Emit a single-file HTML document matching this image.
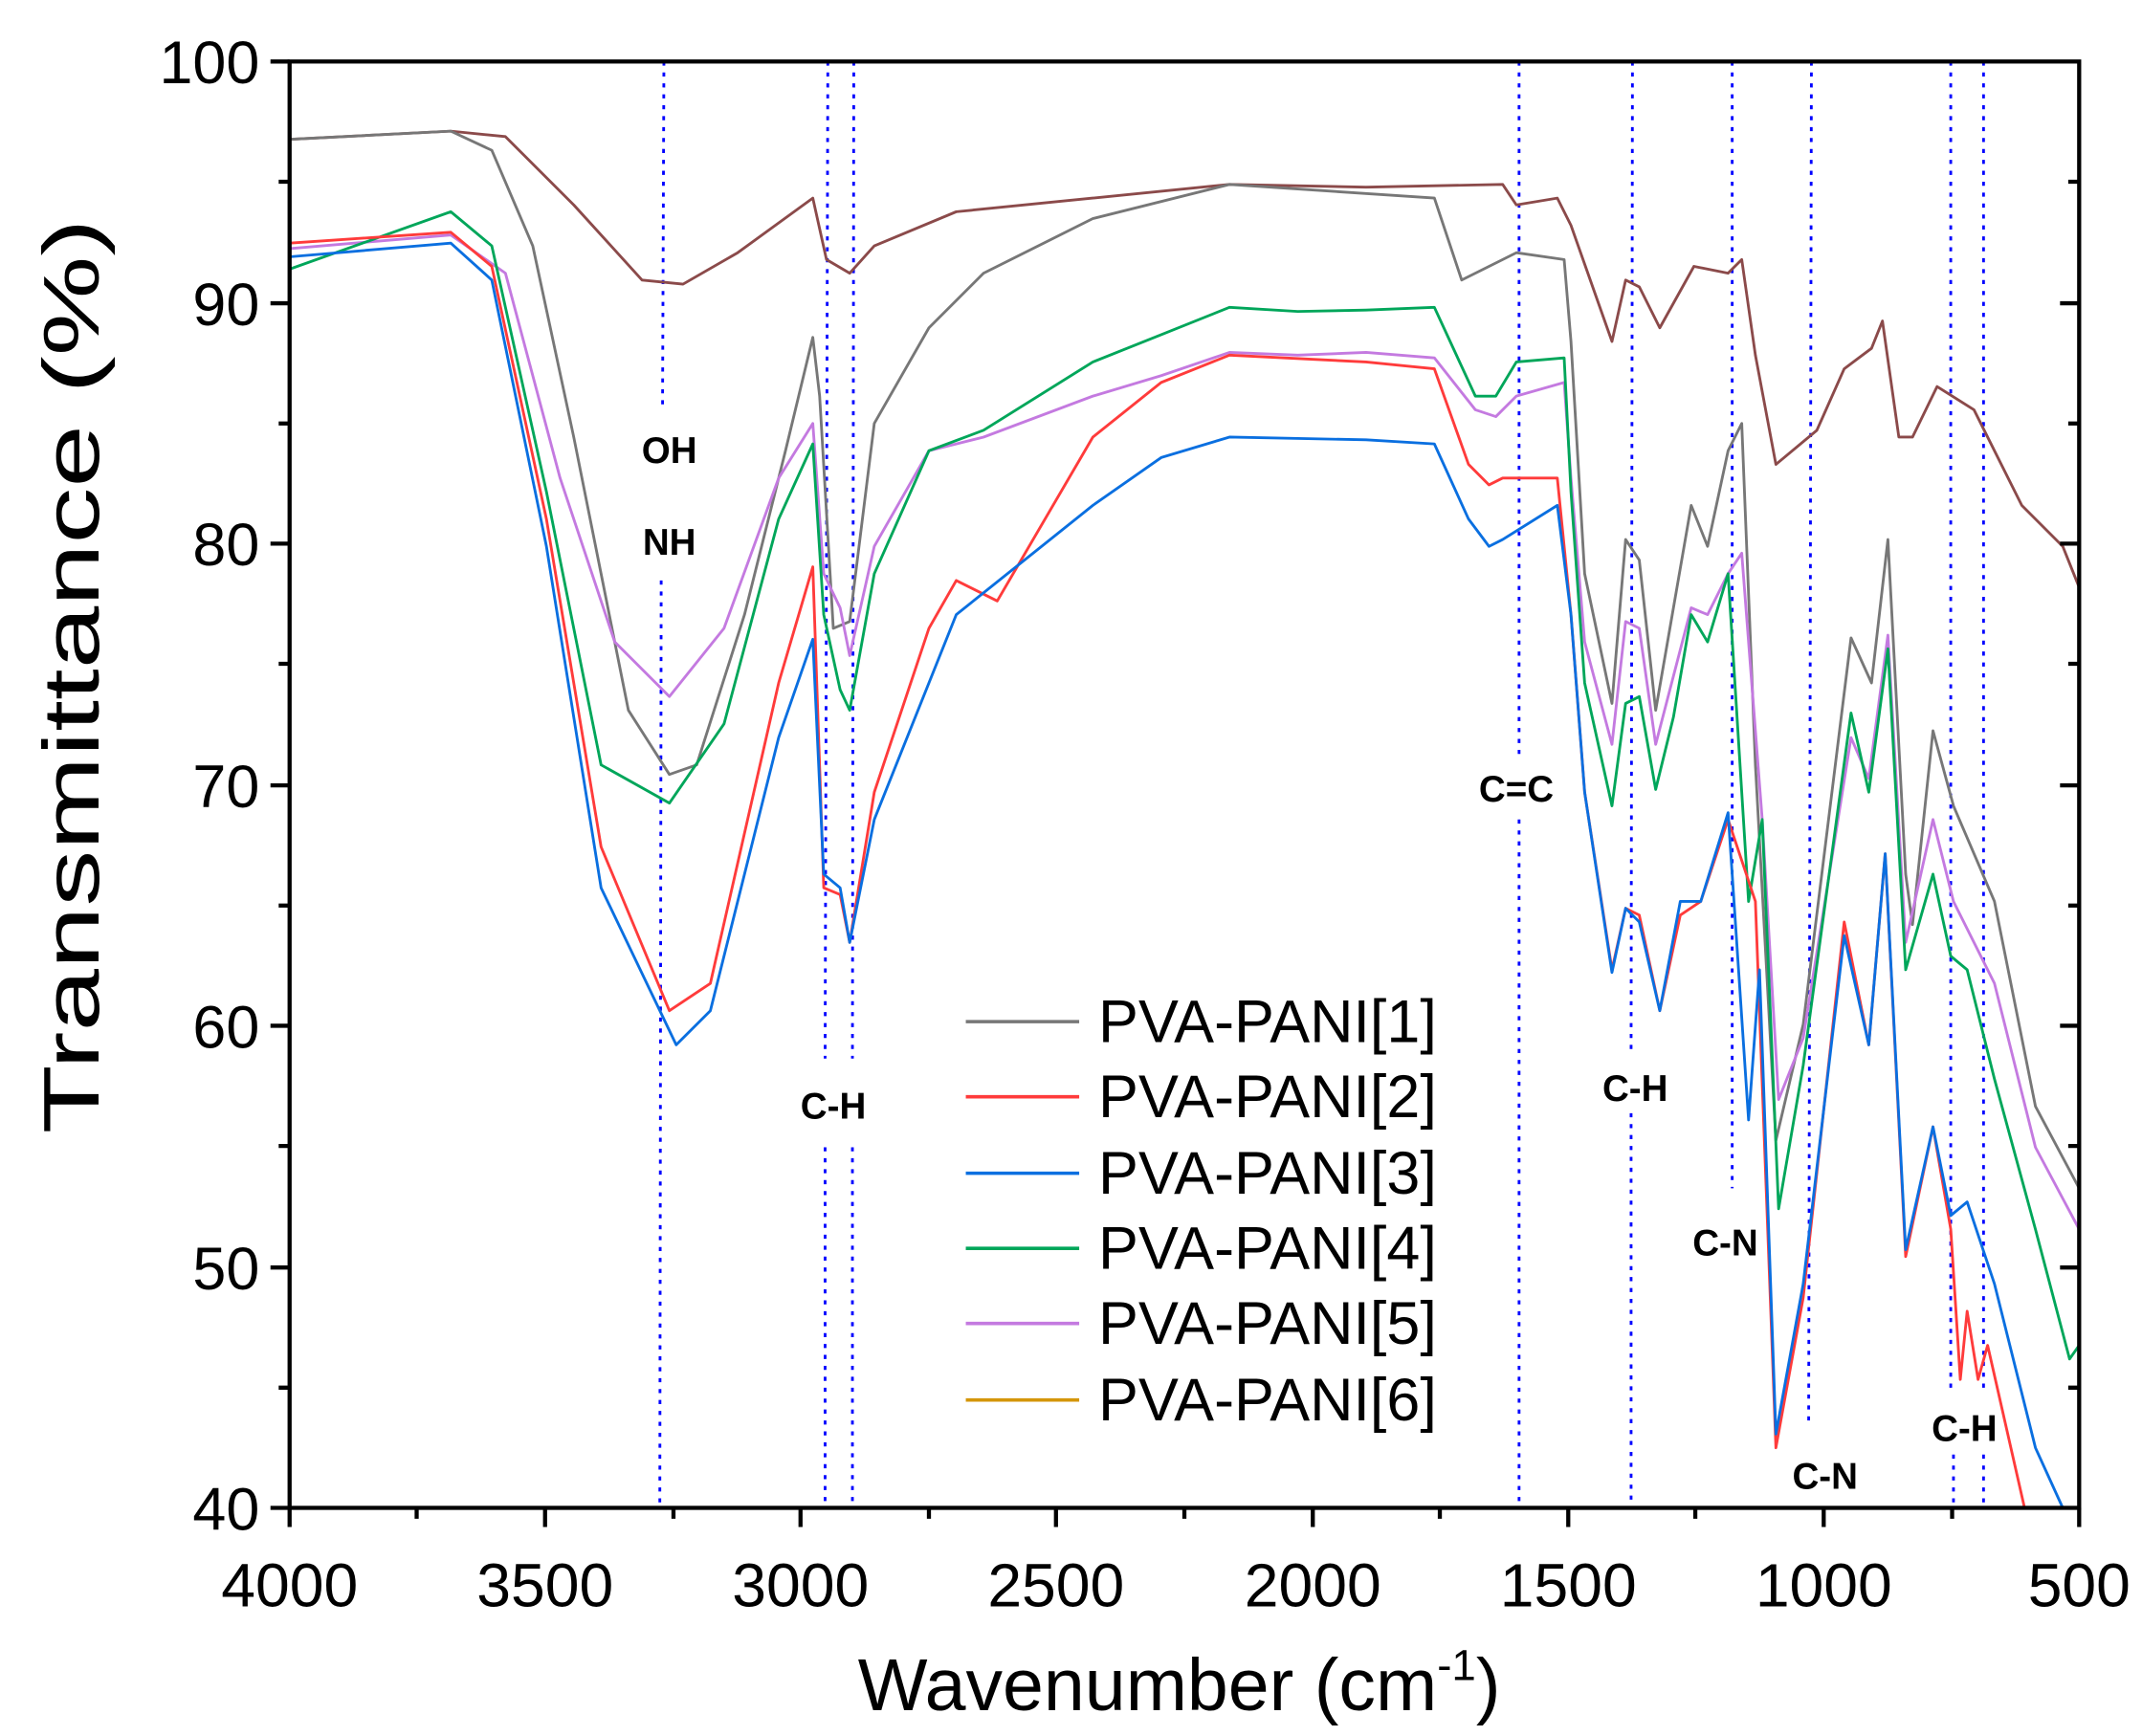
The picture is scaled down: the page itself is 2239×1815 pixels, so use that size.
<!DOCTYPE html>
<html><head><meta charset="utf-8"><style>html,body{margin:0;padding:0;background:#fff}svg{display:block}</style></head>
<body>
<svg xmlns="http://www.w3.org/2000/svg" width="2239" height="1815" viewBox="0 0 1568 1271" font-family="Liberation Sans, Arial, sans-serif">
<rect width="1568" height="1271" fill="#fff"/>
<g stroke="#0000ff" stroke-width="2" stroke-dasharray="3,5" fill="none">
<line x1="486" y1="45" x2="485" y2="300"/><line x1="484" y1="425" x2="483" y2="1104"/>
<line x1="606" y1="45" x2="604" y2="775"/><line x1="604" y1="840" x2="604" y2="1104"/>
<line x1="625" y1="45" x2="624" y2="775"/><line x1="624" y1="840" x2="624" y2="1104"/>
<line x1="1112" y1="45" x2="1112" y2="555"/><line x1="1112" y1="600" x2="1112" y2="1104"/>
<line x1="1195" y1="45" x2="1194" y2="770"/><line x1="1194" y1="815" x2="1194" y2="1104"/>
<line x1="1268" y1="45" x2="1268" y2="870"/>
<line x1="1326" y1="45" x2="1324" y2="1040"/>
<line x1="1428" y1="45" x2="1428" y2="1020"/><line x1="1430" y1="1065" x2="1430" y2="1104"/>
<line x1="1452" y1="45" x2="1452" y2="1020"/><line x1="1452" y1="1065" x2="1452" y2="1104"/>
</g>
<g font-weight="bold" font-size="27" fill="#000" text-anchor="middle">
<text x="490" y="339">OH</text><text x="490" y="406">NH</text>
<text x="610" y="819">C-H</text><text x="1110" y="587">C=C</text>
<text x="1197" y="806">C-H</text><text x="1263" y="919">C-N</text>
<text x="1336" y="1090">C-N</text><text x="1438" y="1055">C-H</text>
</g>
<g fill="none" stroke-width="2" stroke-linejoin="round">
<polyline stroke="#8b4a4a" points="212,1104 212,102 330,96 370,100 420,150 470,205 500,208 540,185 595,145 605,190 622,200 640,180 700,155 800,145 900,135 1000,137 1100,135 1110,150 1140,145 1150,165 1180,250 1190,205 1200,210 1215,240 1240,195 1265,200 1275,190 1285,260 1300,340 1330,315 1350,270 1370,255 1378,235 1390,320 1400,320 1418,283 1445,300 1480,370 1510,400 1522,430"/>
<polyline stroke="#777" points="212,102 330,96 360,110 390,180 420,320 460,520 490,567 510,560 545,450 575,330 595,247 600,290 610,460 622,455 640,310 680,240 720,200 800,160 900,135 1050,145 1070,205 1090,195 1110,185 1145,190 1150,250 1160,420 1180,515 1190,395 1200,410 1212,520 1225,445 1238,370 1250,400 1265,330 1275,310 1285,560 1300,835 1320,750 1355,467 1370,500 1382,395 1395,640 1400,677 1415,535 1430,590 1460,660 1490,810 1522,870"/>
<polyline stroke="#c47ae0" points="212,182 330,172 370,200 410,350 450,470 490,510 530,460 570,350 595,310 603,420 615,445 622,480 640,400 680,330 720,320 800,290 850,275 900,258 950,260 1000,258 1050,262 1080,300 1095,305 1110,290 1145,280 1150,350 1160,470 1180,545 1190,455 1200,460 1212,545 1225,495 1238,445 1250,450 1265,420 1275,405 1290,600 1302,805 1320,760 1355,540 1368,570 1382,465 1395,690 1415,600 1430,660 1460,720 1490,840 1522,900"/>
<polyline stroke="#00a65a" points="212,197 330,155 360,180 400,360 440,560 490,588 530,530 570,380 595,325 603,450 615,505 622,520 640,420 680,330 720,315 800,265 850,245 900,225 950,228 1000,227 1050,225 1080,290 1095,290 1110,265 1145,262 1150,360 1160,500 1180,590 1190,515 1200,510 1212,578 1225,525 1238,450 1250,470 1265,420 1280,660 1290,600 1302,885 1320,780 1355,522 1368,580 1382,475 1395,710 1415,640 1428,700 1440,710 1460,790 1490,900 1515,995 1522,985"/>
<polyline stroke="#ff3b3b" points="212,178 330,170 360,195 400,380 440,620 490,740 520,720 570,500 595,415 603,650 615,655 622,690 640,580 680,460 700,425 730,440 800,320 850,280 900,260 1000,265 1050,270 1075,340 1090,355 1100,350 1140,350 1150,450 1160,580 1180,710 1190,665 1200,670 1215,740 1230,670 1245,660 1265,600 1285,660 1300,1060 1320,950 1350,675 1368,765 1380,625 1395,920 1415,825 1428,900 1435,1010 1440,960 1448,1010 1455,985 1482,1104"/>
<polyline stroke="#0a6fe0" points="212,188 330,178 360,205 400,400 440,650 495,765 520,740 570,540 595,468 603,640 615,650 622,690 640,600 700,450 750,410 800,370 850,335 900,320 1000,322 1050,325 1075,380 1090,400 1100,395 1140,370 1150,450 1160,580 1180,712 1190,665 1200,675 1215,740 1230,660 1245,660 1265,595 1280,820 1288,710 1300,1050 1320,940 1350,685 1368,765 1380,625 1395,915 1415,825 1428,890 1440,880 1460,940 1490,1060 1510,1104"/>
</g>
<g stroke="#000" stroke-width="3" fill="none">
<rect x="212" y="45" width="1310" height="1059"/>
<path d="M212,1104v14M399,1104v14M586,1104v14M773,1104v14M961,1104v14M1148,1104v14M1335,1104v14M1522,1104v14
M305,1104v8M493,1104v8M680,1104v8M867,1104v8M1054,1104v8M1241,1104v8M1429,1104v8
M212,45h-14M212,222h-14M212,398h-14M212,575h-14M212,751h-14M212,928h-14M212,1104h-14
M212,133h-8M212,310h-8M212,486h-8M212,663h-8M212,839h-8M212,1016h-8
M1522,133h-8M1522,222h-14M1522,310h-8M1522,398h-14M1522,486h-8M1522,575h-14M1522,663h-8M1522,751h-14M1522,839h-8M1522,928h-14M1522,1016h-8"/>
</g>
<g font-size="44" fill="#000" text-anchor="end">
<text x="190" y="61">100</text><text x="190" y="238">90</text><text x="190" y="414">80</text><text x="190" y="591">70</text><text x="190" y="767">60</text><text x="190" y="944">50</text><text x="190" y="1120">40</text>
</g>
<g font-size="45" fill="#000" text-anchor="middle">
<text x="212" y="1176">4000</text><text x="399" y="1176">3500</text><text x="586" y="1176">3000</text><text x="773" y="1176">2500</text><text x="961" y="1176">2000</text><text x="1148" y="1176">1500</text><text x="1335" y="1176">1000</text><text x="1522" y="1176">500</text>
</g>
<text x="628" y="1252" font-size="54">Wavenumber (cm<tspan font-size="32" dy="-22">-1</tspan><tspan dy="22">)</tspan></text>
<text transform="translate(72,495) rotate(-90)" font-size="58" text-anchor="middle" textLength="670" lengthAdjust="spacingAndGlyphs">Transmittance (%)</text>
<g stroke-width="2.5">
<line x1="707" y1="748" x2="790" y2="748" stroke="#777"/>
<line x1="707" y1="803" x2="790" y2="803" stroke="#ff3b3b"/>
<line x1="707" y1="859" x2="790" y2="859" stroke="#0a6fe0"/>
<line x1="707" y1="914" x2="790" y2="914" stroke="#00a65a"/>
<line x1="707" y1="969" x2="790" y2="969" stroke="#c47ae0"/>
<line x1="707" y1="1025" x2="790" y2="1025" stroke="#d4960a"/>
</g>
<g font-size="44" fill="#000">
<text x="804" y="763">PVA-PANI[1]</text><text x="804" y="818">PVA-PANI[2]</text><text x="804" y="874">PVA-PANI[3]</text><text x="804" y="929">PVA-PANI[4]</text><text x="804" y="984">PVA-PANI[5]</text><text x="804" y="1040">PVA-PANI[6]</text>
</g>
</svg>
</body></html>
